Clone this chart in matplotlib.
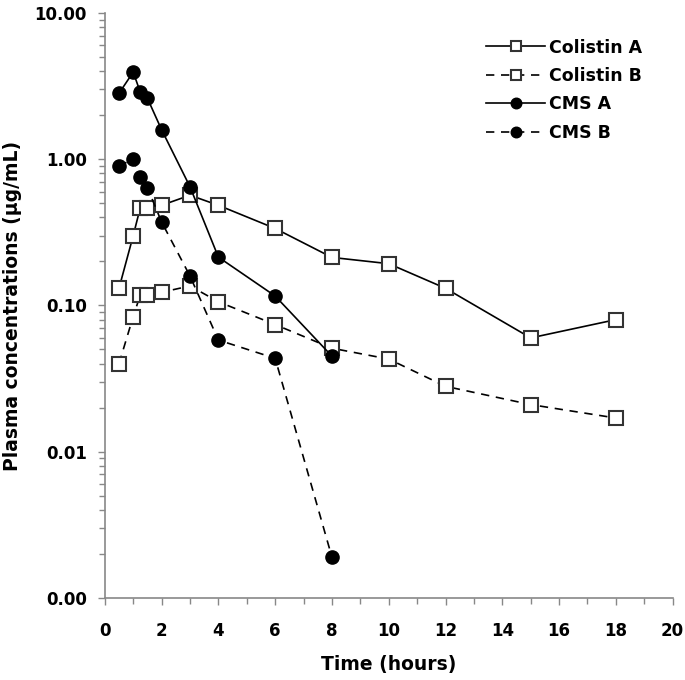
import matplotlib
matplotlib.use("Agg")
import matplotlib.pyplot as plt
from matplotlib.ticker import FixedLocator, LogLocator, FuncFormatter, MultipleLocator
import numpy as np

plt.rcParams['font.family'] = ['DejaVu Sans']
plt.rcParams['font.weight'] = 'bold'

# time points (hours)
t_colistin = [0.5, 1, 1.25, 1.5, 2, 3, 4, 6, 8, 10, 12, 15, 18]
t_cms = [0.5, 1, 1.25, 1.5, 2, 3, 4, 6, 8]

# plasma concentrations (ug/mL)
colistin_a = [0.131, 0.30, 0.467, 0.467, 0.484, 0.567, 0.484, 0.336, 0.213, 0.193, 0.131, 0.060, 0.080]
colistin_b = [0.040, 0.084, 0.118, 0.118, 0.123, 0.136, 0.106, 0.074, 0.051, 0.043, 0.028, 0.021, 0.017]
cms_a = [2.82, 3.94, 2.87, 2.61, 1.59, 0.648, 0.214, 0.116, 0.045]
cms_b = [0.90, 1.0, 0.75, 0.64, 0.372, 0.159, 0.058, 0.0435, 0.0019]

fig = plt.figure(figsize=(6.85, 6.80), dpi=100)
ax = fig.add_axes([0.153, 0.1206, 0.829, 0.8604])

dash = (0, (5, 4))
ax.plot(t_colistin, colistin_a, color='black', lw=1.2, ls='-', marker='s', ms=9.5,
        mfc='white', mec='#333333', mew=1.5, label='Colistin A')
ax.plot(t_colistin, colistin_b, color='black', lw=1.2, ls=dash, marker='s', ms=9.5,
        mfc='white', mec='#333333', mew=1.5, label='Colistin B')
ax.plot(t_cms, cms_a, color='black', lw=1.2, ls='-', marker='o', ms=9.5,
        mfc='black', mec='black', label='CMS A')
ax.plot(t_cms, cms_b, color='black', lw=1.2, ls=dash, marker='o', ms=9.5,
        mfc='black', mec='black', label='CMS B')

ax.set_yscale('log')
ax.set_ylim(0.001, 10)
ax.set_xlim(0, 20)

ax.yaxis.set_major_locator(FixedLocator([0.001, 0.01, 0.1, 1, 10]))
ax.yaxis.set_minor_locator(LogLocator(base=10, subs=np.arange(2, 10)))
ax.yaxis.set_major_formatter(FuncFormatter(lambda v, p: '%.2f' % v))
ax.xaxis.set_major_locator(MultipleLocator(2))
ax.xaxis.set_minor_locator(MultipleLocator(1))

for s in ['top', 'right']:
    ax.spines[s].set_visible(False)
for s in ['left', 'bottom']:
    ax.spines[s].set_color('#888888')
    ax.spines[s].set_linewidth(1.2)

ax.tick_params(axis='both', which='major', direction='out', length=5, width=1,
               color='#888888', labelsize=12)
ax.tick_params(axis='both', which='minor', direction='out', length=4, width=1,
               color='#888888')
ax.tick_params(axis='x', which='major', pad=12)
ax.tick_params(axis='y', which='major', pad=8)

ax.set_xlabel('Time (hours)', fontsize=13.5, fontweight='bold', labelpad=11)
ax.set_ylabel('Plasma concentrations (\u00b5g/mL)', fontsize=13.5, fontweight='bold', labelpad=9)

leg = ax.legend(loc='upper left', bbox_to_anchor=(0.656, 0.971), frameon=False,
                borderpad=0, fontsize=12.5, handlelength=3.4, labelspacing=0.6,
                handletextpad=0.25, markerscale=0.8)

fig.savefig('out.png', dpi=100)
